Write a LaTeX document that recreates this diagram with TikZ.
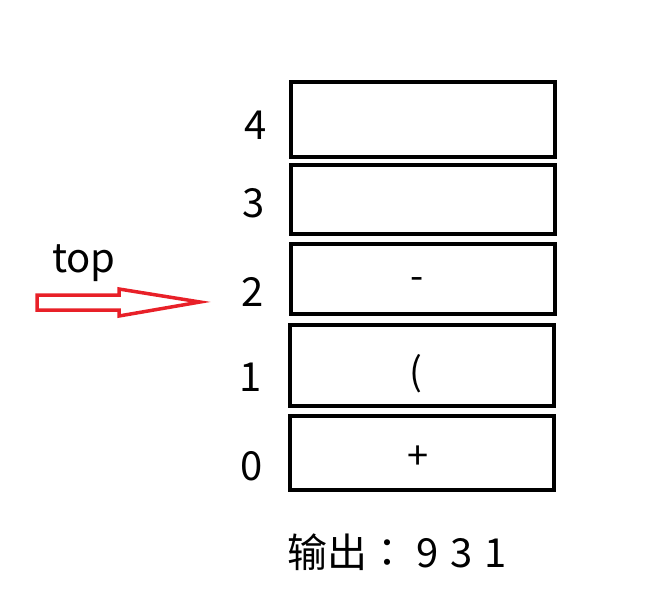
\documentclass[tikz,border=0pt]{standalone}
\usepackage{fontspec}
\newfontfamily\cjk{Noto Sans CJK SC}
\newfontfamily\cjktc{Noto Sans CJK TC}
\definecolor{arrowred}{RGB}{232,32,40}
\begin{document}
\begin{tikzpicture}[x=1pt,y=-1pt,line join=miter,font=\cjk\fontsize{40}{44}\selectfont,
	cell/.style={draw,line width=4.5pt,minimum width=264pt,inner sep=0pt},
	idx/.style={inner sep=0pt},
	sym/.style={inner sep=0pt,font=\cjk\fontsize{38}{42}\selectfont}]
	\useasboundingbox (0,0) rectangle (651,600);
	% stack cells, bottom = 0
	\node[cell,minimum height=75pt] (s4) at (423,119.5) {};
	\node[cell,minimum height=69pt] (s3) at (423,199.5) {};
	\node[cell,minimum height=70pt] (s2) at (423,279) {};
	\node[cell,minimum height=81pt] (s1) at (422,365.5) {};
	\node[cell,minimum height=74pt] (s0) at (422,453) {};
	\node[sym] (c2) at (417,283.5) {-};
	\node[sym] (c1) at (416,374) {(};
	\node[sym] (c0) at (418,458) {+};
	% indices
	\node[idx] (i4) at (256,125) {4};
	\node[idx] (i3) at (254,203) {3};
	\node[idx] (i2) at (253,292) {2};
	\node[idx] (i1) at (251,377) {1};
	\node[idx] (i0) at (252,466) {0};
	% top pointer
	\node[idx,anchor=base] (top) at (84,272) {top};
	\draw[arrowred,line width=3.5pt] (37,295)--(119,295)--(119,289)--(200,302)--(119,316)--(119,310)--(37,310)--cycle;
	\node[idx,anchor=base west] (out) at (287,567) {输出{\cjktc ：} 9\hspace{3pt} 3\hspace{3pt} 1};
\end{tikzpicture}
\end{document}
